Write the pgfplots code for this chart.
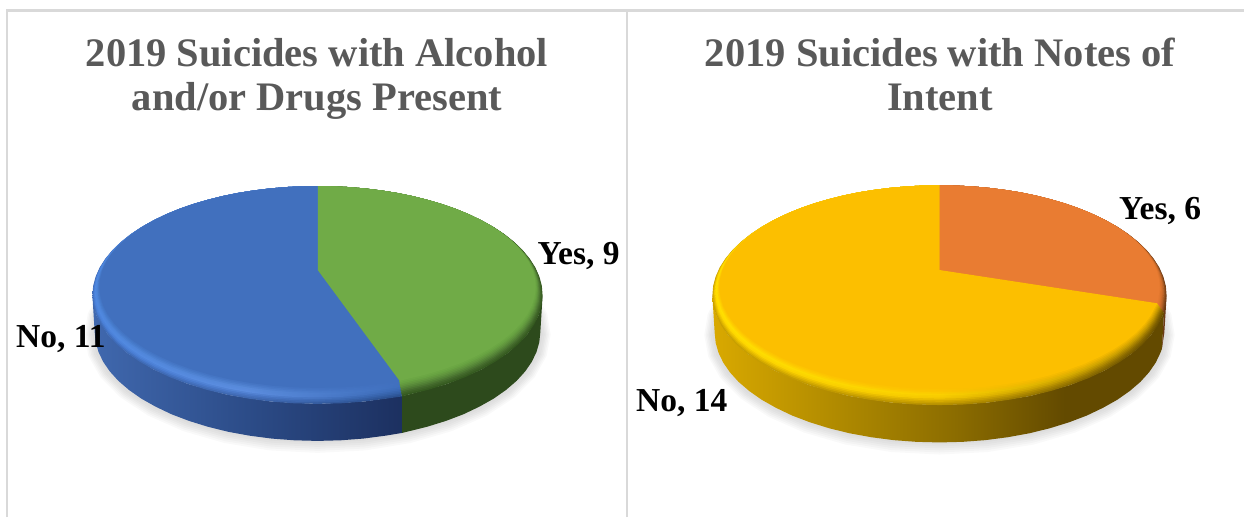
\documentclass[border=0pt]{standalone}
\usepackage{fontspec}
\usepackage{pgfplots}
\usepackage{pgfplotstable}
\pgfplotsset{compat=1.18}
\setmainfont{Liberation Serif}

% Slice outlines in a tilted view, relative to the pie centre (y runs downward).
% A full turn is 20 cases, so 9 cases end at 162 degrees and 6 cases at 108 degrees.
\pgfplotstableread{
x y
0 0
0 -84
16.1 -83.7
32 -82.9
47.9 -81.5
63.5 -79.6
78.9 -77.2
93.8 -74.2
108.4 -70.6
122.4 -66.6
135.9 -62
148.6 -56.9
160.6 -51.3
171.8 -45.2
181.9 -38.7
191 -31.7
199 -24.3
205.7 -16.5
211.1 -8.4
215 0
217.4 8.7
218.1 17.5
217.1 26.5
214.4 35.6
209.7 44.6
203.3 53.5
194.9 62.3
184.6 70.7
172.5 78.7
158.6 86.2
143 93.2
125.8 99.4
107.2 104.9
87.3 109.5
82 111
}\sliceYesNine
\pgfplotstableread{
x y
0 0
82 111
66.4 113.1
44.7 115.8
22.5 117.4
0 117.9
-22.5 117.4
-44.7 115.8
-66.4 113.1
-87.3 109.5
-107.2 104.9
-125.8 99.4
-143 93.2
-158.6 86.2
-172.5 78.7
-184.6 70.7
-194.9 62.3
-203.3 53.5
-209.7 44.6
-214.4 35.6
-217.1 26.5
-218.1 17.5
-217.4 8.7
-215 0
-211.1 -8.4
-205.7 -16.5
-199 -24.3
-191 -31.7
-181.9 -38.7
-171.8 -45.2
-160.6 -51.3
-148.6 -56.9
-135.9 -62
-122.4 -66.6
-108.4 -70.6
-93.8 -74.2
-78.9 -77.2
-63.5 -79.6
-47.9 -81.5
-32 -82.9
-16.1 -83.7
0 -84
}\sliceNoEleven
\pgfplotstableread{
x y
0 0
0 -84
16.1 -83.7
32 -82.9
47.9 -81.5
63.5 -79.6
78.9 -77.2
93.8 -74.2
108.4 -70.6
122.4 -66.6
135.9 -62
148.6 -56.9
160.6 -51.3
171.8 -45.2
181.9 -38.7
191 -31.7
199 -24.3
205.7 -16.5
211.1 -8.4
215 0
217.4 8.7
218.1 17.5
217.1 26.5
216 33
}\sliceYesSix
\pgfplotstableread{
x y
0 0
216 33
214.4 35.6
209.7 44.6
203.3 53.5
194.9 62.3
184.6 70.7
172.5 78.7
158.6 86.2
143 93.2
125.8 99.4
107.2 104.9
87.3 109.5
66.4 113.1
44.7 115.8
22.5 117.4
0 117.9
-22.5 117.4
-44.7 115.8
-66.4 113.1
-87.3 109.5
-107.2 104.9
-125.8 99.4
-143 93.2
-158.6 86.2
-172.5 78.7
-184.6 70.7
-194.9 62.3
-203.3 53.5
-209.7 44.6
-214.4 35.6
-217.1 26.5
-218.1 17.5
-217.4 8.7
-215 0
-211.1 -8.4
-205.7 -16.5
-199 -24.3
-191 -31.7
-181.9 -38.7
-171.8 -45.2
-160.6 -51.3
-148.6 -56.9
-135.9 -62
-122.4 -66.6
-108.4 -70.6
-93.8 -74.2
-78.9 -77.2
-63.5 -79.6
-47.9 -81.5
-32 -82.9
-16.1 -83.7
0 -84
}\sliceNoFourteen

% Whole rim of the top face, used for the cast shadow.
\pgfplotstableread{
x y
0 -84
32 -82.9
63.5 -79.6
93.8 -74.2
122.4 -66.6
148.6 -56.9
171.8 -45.2
191 -31.7
205.7 -16.5
215 0
218.1 17.5
214.4 35.6
203.3 53.5
184.6 70.7
158.6 86.2
125.8 99.4
87.3 109.5
44.7 115.8
0 117.9
-44.7 115.8
-87.3 109.5
-125.8 99.4
-158.6 86.2
-184.6 70.7
-203.3 53.5
-214.4 35.6
-218.1 17.5
-215 0
-205.7 -16.5
-191 -31.7
-171.8 -45.2
-148.6 -56.9
-122.4 -66.6
-93.8 -74.2
-63.5 -79.6
-32 -82.9
}\faceRim

% Side walls of the disc: upper rim, then lower rim in reverse.
\pgfplotstableread{
x y
84.6 125.9
46.1 131.6
0 133.9
-46.1 131.6
-90.1 124.8
-129.8 113.9
-163.7 99.6
-190.5 82.9
-209.8 64.4
-221.3 45
-225.1 25.5
-222.8 62.5
-221.8 72.2
-219 82
-214.3 91.8
-207.7 101.4
-199.1 110.9
-188.6 119.9
-176.2 128.6
-162 136.6
-146.1 144.2
-128.5 150.9
-109.5 156.8
-89.2 161.8
-67.8 165.7
-45.6 168.6
-23 170.3
0 170.9
23 170.3
45.6 168.6
67.8 165.7
84.6 162.9
}\wallNoEleven
\pgfplotstableread{
x y
84.6 125.9
90.1 124.8
129.8 113.9
163.7 99.6
190.5 82.9
209.8 64.4
221.3 45
225.1 25.5
222.8 62.5
221.8 72.2
219 82
214.3 91.8
207.7 101.4
199.1 110.9
188.6 119.9
176.2 128.6
162 136.6
146.1 144.2
128.5 150.9
109.5 156.8
89.2 161.8
84.6 162.9
}\wallYesNine
\pgfplotstableread{
x y
222.6 41.2
221.3 45
209.8 64.4
190.5 82.9
163.7 99.6
129.8 113.9
90.1 124.8
46.1 131.6
0 133.9
-46.1 131.6
-90.1 124.8
-129.8 113.9
-163.7 99.6
-190.5 82.9
-209.8 64.4
-221.3 45
-225.1 25.5
-222.8 62.5
-221.8 72.2
-219 82
-214.3 91.8
-207.7 101.4
-199.1 110.9
-188.6 119.9
-176.2 128.6
-162 136.6
-146.1 144.2
-128.5 150.9
-109.5 156.8
-89.2 161.8
-67.8 165.7
-45.6 168.6
-23 170.3
0 170.9
23 170.3
45.6 168.6
67.8 165.7
89.2 161.8
109.5 156.8
128.5 150.9
146.1 144.2
162 136.6
176.2 128.6
188.6 119.9
199.1 110.9
207.7 101.4
214.3 91.8
219 82
220.4 78.2
}\wallNoFourteen
\pgfplotstableread{
x y
225.1 25.5
222.6 41.2
220.4 78.2
222.8 62.5
}\wallYesSix

% Palette: slice faces, walls and the bevel rings (L, M, R = left, middle, right of a ring).
\definecolor{faceNoA}{HTML}{4170BE}
\definecolor{faceYesA}{HTML}{70AB47}
\definecolor{faceYesB}{HTML}{E97C32}
\definecolor{faceNoB}{HTML}{FCBF00}
\definecolor{wallBL}{HTML}{4068AE}
\definecolor{wallBM}{HTML}{2C4C88}
\definecolor{wallBR}{HTML}{1C3060}
\definecolor{wallG}{HTML}{2D4A1C}
\definecolor{wallO}{HTML}{6B3A14}
\definecolor{frameC}{HTML}{D9D9D9}
\definecolor{titleC}{HTML}{595959}
\definecolor{wy0}{HTML}{D9A900}
\definecolor{wy1}{HTML}{B28C00}
\definecolor{wy2}{HTML}{8B6C00}
\definecolor{wy3}{HTML}{634A00}
\definecolor{bL1}{HTML}{3F6CB8}\definecolor{bM1}{HTML}{3F68B0}\definecolor{bR1}{HTML}{2A4F8E}
\definecolor{bL2}{HTML}{4A80D8}\definecolor{bM2}{HTML}{4A78C8}\definecolor{bR2}{HTML}{335FA5}
\definecolor{bL3}{HTML}{5089E0}\definecolor{bM3}{HTML}{5C8DDF}\definecolor{bR3}{HTML}{3A69B5}
\definecolor{bL4}{HTML}{4D85DA}\definecolor{bM4}{HTML}{588ADA}\definecolor{bR4}{HTML}{3F6FBD}
\definecolor{bL5}{HTML}{467BCB}\definecolor{bM5}{HTML}{4B7CCB}\definecolor{bR5}{HTML}{4170BF}
\definecolor{g1}{HTML}{355A20}\definecolor{g2}{HTML}{42682B}\definecolor{g3}{HTML}{517F35}
\definecolor{g4}{HTML}{5F933D}\definecolor{g5}{HTML}{68A342}
\definecolor{o1}{HTML}{6E3A14}\definecolor{o2}{HTML}{95511F}\definecolor{o3}{HTML}{B86328}
\definecolor{o4}{HTML}{D26F2C}\definecolor{o5}{HTML}{E0772F}
\definecolor{yL1}{HTML}{C9A000}\definecolor{yM1}{HTML}{B89200}\definecolor{yR1}{HTML}{6A5000}
\definecolor{yL2}{HTML}{E8BD00}\definecolor{yM2}{HTML}{D8AC00}\definecolor{yR2}{HTML}{7D5F00}
\definecolor{yL3}{HTML}{FFD800}\definecolor{yM3}{HTML}{F5C800}\definecolor{yR3}{HTML}{9C7700}
\definecolor{yL4}{HTML}{FFE000}\definecolor{yM4}{HTML}{FBD000}\definecolor{yR4}{HTML}{C09400}
\definecolor{yL5}{HTML}{FFCF00}\definecolor{yM5}{HTML}{FCC400}\definecolor{yR5}{HTML}{E0AA00}

\pgfdeclarehorizontalshading{wallyellow}{100bp}{
  color(0bp)=(wy0); color(25bp)=(wy0); color(38bp)=(wy1); color(52bp)=(wy2);
  color(64bp)=(wy3); color(75bp)=(wy3); color(100bp)=(wy3)}

% One ring of the bevel: the slice enlarged about the rear point of the rim.
\newcommand\bevelring[5]{%
  \addplot[draw=none, shade, left color=#3, right color=#5, middle color=#4]
    table[x expr=\thisrow{x}*(1+0.032*#2), y expr=(\thisrow{y}+84)*(1+0.079*#2)-84] {#1} --cycle;}
% Ten rings, outermost first; odd rings blend two neighbouring palette entries.
\newcommand\bevelseries[5]{%
  \bevelring{#1}{1.0}{#21}{#31}{#41}%
  \bevelring{#1}{0.9}{#21!50!#22}{#31!50!#32}{#41!50!#42}%
  \bevelring{#1}{0.8}{#22}{#32}{#42}%
  \bevelring{#1}{0.7}{#22!50!#23}{#32!50!#33}{#42!50!#43}%
  \bevelring{#1}{0.6}{#23}{#33}{#43}%
  \bevelring{#1}{0.5}{#23!50!#24}{#33!50!#34}{#43!50!#44}%
  \bevelring{#1}{0.4}{#24}{#34}{#44}%
  \bevelring{#1}{0.3}{#24!50!#25}{#34!50!#35}{#44!50!#45}%
  \bevelring{#1}{0.2}{#25}{#35}{#45}%
  \bevelring{#1}{0.1}{#25!50!#5}{#35!50!#5}{#45!50!#5}}
\newcommand\sliceface[2]{\addplot[draw=none, fill=#2] table {#1} --cycle;}
\newcommand\castshadow[2]{%
  \addplot[draw=none, fill=black, fill opacity=0.022]
    table[x expr=\thisrow{x}*#1/218, y expr=(\thisrow{y}-17)*#2/101+64] {\faceRim} --cycle;}
\newcommand\shadowstack{%
  \castshadow{233}{119}\castshadow{231.5}{117}\castshadow{230}{115}
  \castshadow{228.5}{113}\castshadow{227}{111}\castshadow{225}{109}}

\pgfplotsset{pieaxis/.style={
  anchor=south west, scale only axis, hide axis, clip=false, y dir=reverse}}

\newcommand\px[2]{(#1pt,{517pt-#2pt})}
\begin{document}
\begin{tikzpicture}[x=1pt,y=1pt]
\path[use as bounding box] (0,0) rectangle (1244pt,517pt);

% Left pie: Yes 9, No 11
\begin{axis}[pieaxis, at={(0pt,0pt)}, width=627pt, height=517pt,
  xmin=-317.5, xmax=309.5, ymin=-270, ymax=247]
\shadowstack
\addplot[draw=none, shade, left color=wallBL, right color=wallBR, middle color=wallBM] table {\wallNoEleven} --cycle;
\addplot[draw=none, fill=wallG] table {\wallYesNine} --cycle;
\bevelseries{\sliceYesNine}{g}{g}{g}{faceYesA}
\bevelseries{\sliceNoEleven}{bL}{bM}{bR}{faceNoA}
\sliceface{\sliceYesNine}{faceYesA}
\sliceface{\sliceNoEleven}{faceNoA}
\end{axis}

% Right pie: Yes 6, No 14
\begin{axis}[pieaxis, at={(627pt,0pt)}, width=617pt, height=517pt,
  xmin=-309.7, xmax=301.8, ymin=-267.6, ymax=244.8]
\shadowstack
\addplot[draw=none, shading=wallyellow] table {\wallNoFourteen} --cycle;
\addplot[draw=none, fill=wallO] table {\wallYesSix} --cycle;
\bevelseries{\sliceYesSix}{o}{o}{o}{faceYesB}
\bevelseries{\sliceNoFourteen}{yL}{yM}{yR}{faceNoB}
\sliceface{\sliceYesSix}{faceYesB}
\sliceface{\sliceNoFourteen}{faceNoB}
\end{axis}

% Panel frame
\draw[frameC, line width=2.5pt] (7pt,0pt) -- (7pt,506.5pt) -- (1244pt,506.5pt);
\draw[frameC, line width=2pt] (627pt,0pt) -- (627pt,506.5pt);

% Titles
\begin{scope}[every node/.style={inner sep=0pt, anchor=base, text=titleC,
    font=\fontsize{40.5}{40.5}\selectfont\bfseries}]
\node at \px{317}{67} {2019 Suicides with Alcohol};
\node at \px{317}{110.5} {and/or Drugs Present};
\node at \px{940}{67} {2019 Suicides with Notes of};
\node at \px{940}{110.5} {Intent};
\end{scope}

% Slice labels
\begin{scope}[every node/.style={inner sep=0pt, anchor=base west, text=black,
    font=\fontsize{33.5}{33.5}\selectfont\bfseries}]
\node at \px{537.5}{265} {Yes, 9};
\node at \px{16}{348} {No, 11};
\node at \px{1119}{219.5} {Yes, 6};
\node at \px{636}{411} {No, 14};
\end{scope}
\end{tikzpicture}
\end{document}
